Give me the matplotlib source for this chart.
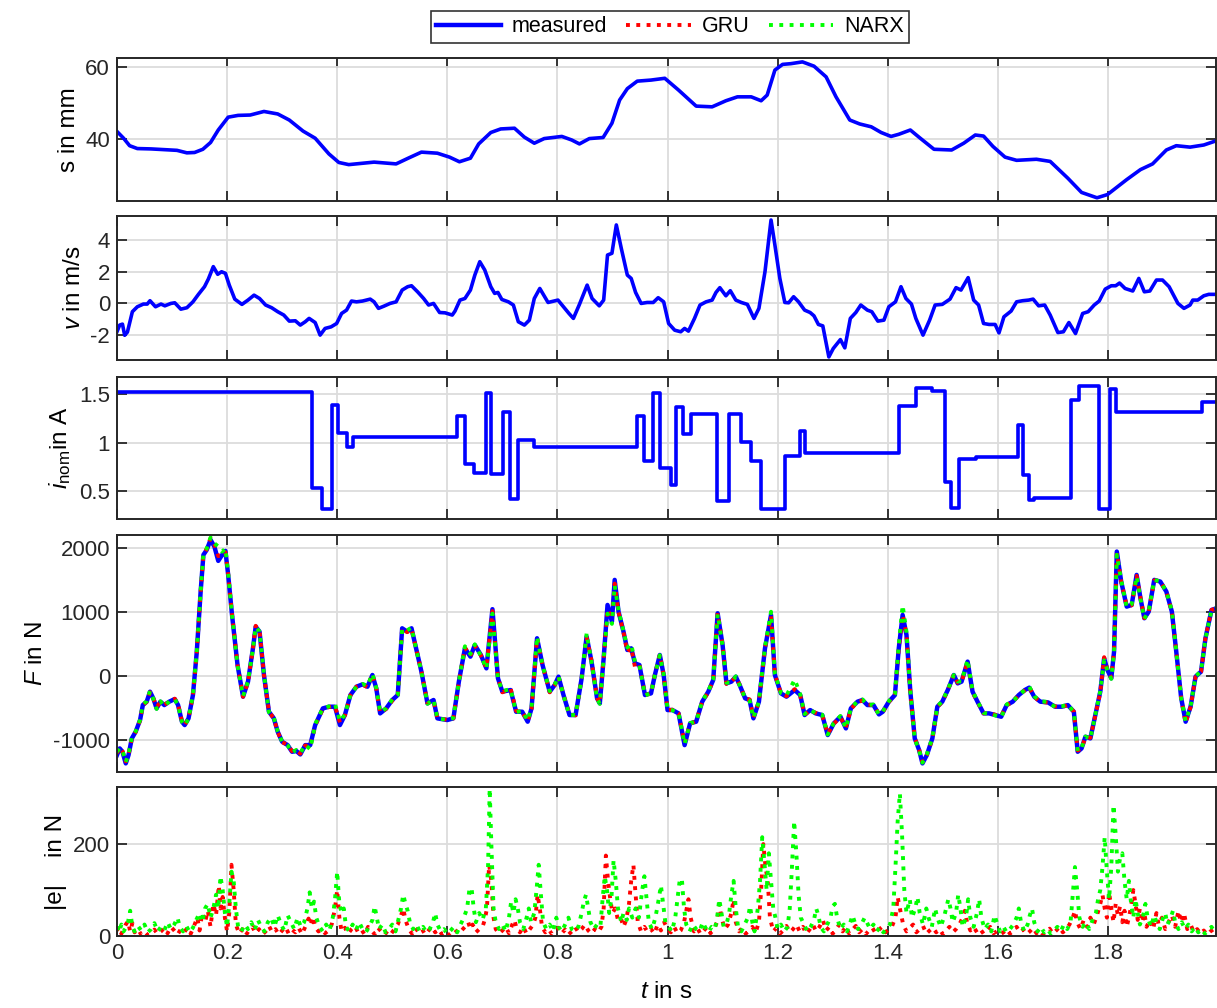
import matplotlib
matplotlib.use("Agg")
import matplotlib.pyplot as plt
from matplotlib.ticker import FuncFormatter

plt.rcParams['font.family'] = ['Liberation Sans', 'DejaVu Sans']
plt.rcParams['mathtext.fontset'] = 'custom'
plt.rcParams['mathtext.rm'] = 'Liberation Sans'
plt.rcParams['mathtext.it'] = 'Liberation Sans:italic'
plt.rcParams['axes.unicode_minus'] = False

# ---------------- data ----------------
# stroke s in mm
s_t = [0, 0.012, 0.023, 0.037, 0.062, 0.109, 0.127, 0.141, 0.156, 0.170,
       0.184, 0.202, 0.220, 0.242, 0.267, 0.292, 0.313, 0.338, 0.360, 0.385,
       0.403, 0.421, 0.467, 0.507, 0.529, 0.553, 0.582, 0.604, 0.622, 0.642,
       0.657, 0.679, 0.697, 0.722, 0.740, 0.758, 0.776, 0.808, 0.826, 0.840,
       0.858, 0.883, 0.899, 0.913, 0.927, 0.945, 0.970, 0.995, 1.020, 1.052,
       1.081, 1.106, 1.127, 1.152, 1.170, 1.181, 1.195, 1.209, 1.224, 1.245,
       1.266, 1.288, 1.306, 1.331, 1.349, 1.370, 1.388, 1.406, 1.420, 1.441,
       1.459, 1.484, 1.516, 1.538, 1.559, 1.574, 1.591, 1.613, 1.634, 1.670,
       1.695, 1.727, 1.752, 1.780, 1.799, 1.834, 1.859, 1.881, 1.906, 1.924,
       1.949, 1.974, 1.997]
s_val = [42.0, 40.1, 38.0, 37.2, 37.1, 36.7, 36.0, 36.1, 37.0, 38.9,
         42.4, 46.0, 46.5, 46.6, 47.6, 46.9, 45.2, 42.1, 40.1, 35.7,
         33.3, 32.7, 33.4, 32.9, 34.5, 36.2, 35.9, 34.8, 33.5, 34.5,
         38.5, 41.7, 42.7, 42.9, 40.4, 38.7, 40.0, 40.6, 39.6, 38.5,
         40.0, 40.3, 44.3, 50.8, 54.0, 56.1, 56.4, 56.9, 53.6, 49.1,
         48.9, 50.6, 51.7, 51.7, 50.6, 52.2, 59.2, 60.8, 61.0, 61.5,
         60.3, 57.3, 51.7, 45.2, 44.1, 43.3, 41.7, 40.6, 41.2, 42.4,
         40.1, 37.0, 36.8, 38.7, 41.0, 40.7, 37.8, 34.8, 33.9, 34.2,
         33.6, 28.9, 24.9, 23.4, 24.3, 28.5, 31.3, 32.9, 36.8, 38.0,
         37.6, 38.2, 39.4]

# velocity v in m/s: (t, v)
v_points = [
    (0.000, -1.78), (0.005, -1.36), (0.010, -1.30), (0.014, -2.00), (0.019, -1.80),
    (0.028, -0.52), (0.037, -0.21), (0.048, -0.04), (0.055, -0.04), (0.060, 0.17),
    (0.070, -0.21), (0.080, -0.04), (0.087, -0.15), (0.098, 0.00), (0.105, 0.04),
    (0.116, -0.36), (0.127, -0.27), (0.138, 0.10), (0.148, 0.57), (0.159, 1.05),
    (0.166, 1.53), (0.175, 2.31), (0.183, 1.83), (0.190, 1.99), (0.197, 1.89),
    (0.204, 1.15), (0.214, 0.27), (0.227, -0.06), (0.238, 0.21), (0.249, 0.52),
    (0.259, 0.31), (0.270, -0.10), (0.281, -0.27), (0.292, -0.52), (0.303, -0.73),
    (0.313, -1.11), (0.324, -1.09), (0.333, -1.36), (0.342, -1.15), (0.349, -0.94),
    (0.360, -1.20), (0.369, -1.99), (0.378, -1.57), (0.389, -1.47), (0.399, -1.26),
    (0.408, -0.63), (0.417, -0.42), (0.426, 0.15), (0.435, 0.10), (0.446, 0.15),
    (0.460, 0.27), (0.467, 0.10), (0.475, -0.31), (0.485, -0.17), (0.496, 0.00),
    (0.507, 0.10), (0.518, 0.84), (0.528, 1.05), (0.535, 1.11), (0.546, 0.73),
    (0.557, 0.31), (0.566, -0.10), (0.575, 0.00), (0.586, -0.57), (0.596, -0.59),
    (0.609, -0.73), (0.614, -0.48), (0.623, 0.21), (0.632, 0.31), (0.642, 0.84),
    (0.650, 1.78), (0.659, 2.62), (0.668, 2.10), (0.679, 1.05), (0.686, 0.63),
    (0.692, 0.69), (0.699, 0.25), (0.711, 0.10), (0.720, -0.10), (0.729, -1.15),
    (0.740, -1.36), (0.749, -1.05), (0.758, 0.31), (0.768, 0.94), (0.783, 0.06),
    (0.801, 0.21), (0.811, -0.21), (0.821, -0.63), (0.829, -0.94), (0.840, -0.06),
    (0.854, 1.15), (0.863, 0.31), (0.876, -0.15), (0.884, 0.21), (0.891, 3.04),
    (0.899, 3.15), (0.907, 4.93), (0.916, 3.46), (0.927, 1.78), (0.934, 1.57),
    (0.942, 0.69), (0.952, 0.00), (0.963, 0.06), (0.974, 0.06), (0.983, 0.36),
    (0.993, 0.10), (1.002, -1.26), (1.013, -1.68), (1.024, -1.78), (1.031, -1.57),
    (1.038, -1.74), (1.049, -0.94), (1.059, -0.10), (1.070, 0.10), (1.081, 0.21),
    (1.088, 0.69), (1.095, 0.99), (1.106, 0.48), (1.114, 0.80), (1.124, 0.21),
    (1.134, 0.06), (1.145, -0.06), (1.157, -0.94), (1.166, -0.31), (1.177, 1.99),
    (1.188, 5.24), (1.195, 3.67), (1.204, 1.57), (1.213, 0.06), (1.220, 0.04),
    (1.229, 0.42), (1.238, 0.10), (1.249, -0.42), (1.259, -0.57), (1.266, -0.78),
    (1.274, -1.32), (1.282, -1.41), (1.293, -3.36), (1.301, -2.83), (1.314, -2.27),
    (1.322, -2.79), (1.332, -0.94), (1.342, -0.57), (1.351, -0.10), (1.363, -0.42),
    (1.371, -0.52), (1.382, -1.11), (1.393, -1.05), (1.402, -0.21), (1.414, 0.10),
    (1.424, 1.05), (1.433, 0.31), (1.443, -0.04), (1.451, -0.94), (1.464, -1.99),
    (1.476, -1.05), (1.486, -0.10), (1.499, -0.06), (1.513, 0.27), (1.524, 0.99),
    (1.533, 0.84), (1.546, 1.62), (1.556, 0.21), (1.565, -0.10), (1.574, -1.26),
    (1.584, -1.32), (1.595, -1.32), (1.602, -1.85), (1.611, -0.84), (1.624, -0.48),
    (1.634, 0.10), (1.645, 0.17), (1.656, 0.21), (1.664, 0.27), (1.674, -0.15),
    (1.685, -0.10), (1.695, -0.73), (1.709, -1.83), (1.719, -1.78), (1.729, -1.20),
    (1.741, -1.89), (1.754, -0.63), (1.764, -0.52), (1.775, -0.10), (1.784, 0.15),
    (1.795, 0.90), (1.806, 1.11), (1.814, 1.11), (1.821, 1.28), (1.831, 0.94),
    (1.845, 0.78), (1.856, 1.57), (1.866, 0.73), (1.876, 0.78), (1.888, 1.47),
    (1.899, 1.47), (1.911, 1.05), (1.927, 0.00), (1.938, -0.31), (1.949, -0.10),
    (1.954, 0.21), (1.963, 0.21), (1.974, 0.48), (1.983, 0.57), (1.997, 0.57),
]

# nominal current: switching instants and held levels
i_t = [0, 0.354, 0.373, 0.391, 0.401, 0.418, 0.428, 0.618, 0.632, 0.649,
       0.670, 0.680, 0.702, 0.713, 0.729, 0.758, 0.945, 0.957, 0.974, 0.986,
       1.006, 1.015, 1.029, 1.043, 1.090, 1.111, 1.134, 1.152, 1.170, 1.214,
       1.240, 1.249, 1.420, 1.452, 1.481, 1.504, 1.514, 1.529, 1.561, 1.636,
       1.645, 1.656, 1.666, 1.733, 1.747, 1.783, 1.804, 1.814, 1.971, 1.997]
i_val = [1.53, 0.53, 0.32, 1.39, 1.10, 0.96, 1.06, 1.28, 0.78, 0.69,
         1.51, 0.68, 1.32, 0.42, 1.03, 0.96, 1.28, 0.81, 1.51, 0.74,
         0.57, 1.37, 1.09, 1.30, 0.40, 1.30, 1.01, 0.81, 0.32, 0.87,
         1.12, 0.90, 1.38, 1.57, 1.54, 0.60, 0.33, 0.83, 0.85, 1.18,
         0.67, 0.41, 0.43, 1.44, 1.59, 0.32, 1.56, 1.32, 1.42, 1.42]

# force: (t, measured, GRU, NARX) in N
F_rows = [
    (0.000, -1231, -1200, -1180), (0.005, -1127, -1110, -1120), (0.010, -1179, -1170, -1160),
    (0.016, -1361, -1330, -1340), (0.021, -1231, -1230, -1220), (0.027, -970, -980, -960),
    (0.034, -866, -870, -860), (0.042, -683, -690, -680), (0.047, -449, -450, -440),
    (0.054, -396, -400, -390), (0.060, -240, -250, -230), (0.066, -344, -340, -350),
    (0.072, -501, -480, -510), (0.079, -396, -400, -390), (0.086, -449, -440, -470),
    (0.095, -396, -400, -390), (0.105, -355, -350, -360), (0.111, -449, -440, -450),
    (0.118, -709, -700, -710), (0.123, -762, -760, -770), (0.130, -657, -650, -660),
    (0.138, -292, -300, -290), (0.145, 386, 380, 390), (0.152, 1325, 1320, 1330),
    (0.157, 1899, 1900, 1920), (0.163, 1977, 1990, 2000), (0.170, 2134, 2160, 2170),
    (0.177, 2029, 2060, 2080), (0.184, 1805, 1880, 2030), (0.191, 1899, 1900, 1950),
    (0.197, 1961, 1940, 2000), (0.202, 1586, 1600, 1610), (0.209, 960, 970, 960),
    (0.219, 177, 180, 170), (0.229, -318, -320, -310), (0.238, -83, -90, -80),
    (0.247, 438, 440, 430), (0.252, 777, 790, 770), (0.259, 699, 710, 700),
    (0.267, 21, 20, 30), (0.276, -553, -550, -560), (0.285, -657, -660, -650),
    (0.292, -866, -870, -860), (0.300, -1022, -1030, -1020), (0.310, -1075, -1070, -1080),
    (0.318, -1179, -1170, -1190), (0.326, -1168, -1160, -1150), (0.333, -1221, -1210, -1200),
    (0.342, -1075, -1080, -1070), (0.351, -1075, -1100, -1140), (0.360, -762, -770, -750),
    (0.367, -631, -640, -620), (0.374, -501, -510, -500), (0.385, -475, -480, -470),
    (0.396, -475, -470, -430), (0.405, -762, -720, -700), (0.414, -605, -610, -600),
    (0.424, -292, -300, -290), (0.435, -162, -160, -160), (0.446, -125, -130, -120),
    (0.455, -162, -170, -150), (0.464, 21, 30, 40), (0.471, -188, -190, -180),
    (0.478, -579, -570, -560), (0.489, -501, -510, -500), (0.500, -370, -380, -360),
    (0.510, -292, -300, -290), (0.518, 751, 760, 740), (0.527, 699, 690, 720),
    (0.535, 751, 740, 760), (0.546, 334, 340, 330), (0.553, 73, 80, 70),
    (0.564, -423, -420, -430), (0.575, -370, -380, -360), (0.582, -657, -650, -660),
    (0.600, -683, -680, -680), (0.611, -657, -660, -650), (0.621, -83, -90, -80),
    (0.632, 438, 450, 470), (0.642, 308, 320, 350), (0.650, 490, 480, 500),
    (0.661, 334, 330, 320), (0.671, 125, 130, 120), (0.682, 1050, 1020, 980),
    (0.692, -31, -20, -40), (0.700, -240, -250, -230), (0.715, -214, -190, -200),
    (0.725, -553, -540, -560), (0.736, -553, -560, -540), (0.746, -709, -700, -690),
    (0.753, -501, -510, -490), (0.763, 595, 590, 620), (0.773, 177, 180, 170),
    (0.786, -240, -250, -230), (0.795, -136, -140, -130), (0.802, -5, -10, 0),
    (0.811, -292, -290, -300), (0.822, -605, -600, -610), (0.833, -605, -610, -600),
    (0.844, -31, -30, -40), (0.853, 621, 610, 670), (0.862, 230, 240, 220),
    (0.872, -344, -340, -350), (0.877, -423, -420, -430), (0.884, 282, 290, 280),
    (0.891, 1116, 1050, 980), (0.899, 855, 900, 820), (0.904, 1508, 1450, 1420),
    (0.911, 1012, 1000, 1030), (0.920, 699, 690, 700), (0.927, 412, 380, 450),
    (0.934, 438, 450, 506), (0.941, 203, 140, 220), (0.949, 177, 180, 170),
    (0.959, -292, -290, -300), (0.970, -266, -270, -260), (0.977, 21, 30, 20),
    (0.986, 334, 340, 330), (0.993, 21, 20, 30), (1.000, -527, -530, -520),
    (1.009, -527, -520, -530), (1.020, -579, -580, -570), (1.031, -1075, -1040, -1060),
    (1.041, -735, -740, -730), (1.052, -709, -700, -710), (1.063, -396, -400, -390),
    (1.074, -240, -250, -230), (1.083, -57, -60, -50), (1.091, 986, 990, 970),
    (1.100, 490, 500, 480), (1.107, -110, -120, -100), (1.116, -83, -80, -100),
    (1.124, -5, -10, 0), (1.131, -136, -130, -140), (1.141, -344, -350, -340),
    (1.149, -370, -360, -380), (1.156, -657, -640, -650), (1.166, -396, -400, -390),
    (1.177, 438, 440, 460), (1.188, 960, 940, 1010), (1.195, 21, 30, 40),
    (1.206, -266, -270, -260), (1.216, -318, -310, -300), (1.231, -214, -200, -50),
    (1.241, -292, -300, -280), (1.249, -605, -600, -590), (1.259, -527, -530, -520),
    (1.269, -579, -570, -580), (1.281, -605, -610, -600), (1.291, -918, -900, -910),
    (1.302, -735, -740, -730), (1.314, -631, -640, -620), (1.324, -814, -800, -810),
    (1.333, -501, -510, -500), (1.345, -396, -400, -390), (1.354, -370, -380, -360),
    (1.363, -449, -440, -450), (1.374, -449, -450, -440), (1.384, -595, -590, -600),
    (1.391, -553, -560, -550), (1.402, -396, -400, -390), (1.413, -292, -300, -280),
    (1.420, 438, 440, 500), (1.427, 960, 960, 1110), (1.434, 647, 650, 700),
    (1.441, -240, -250, -230), (1.449, -970, -960, -980), (1.457, -1153, -1150, -1160),
    (1.463, -1361, -1340, -1350), (1.471, -1231, -1230, -1220), (1.481, -970, -980, -960),
    (1.490, -475, -480, -470), (1.499, -396, -400, -390), (1.509, -214, -220, -210),
    (1.520, 21, 30, 20), (1.527, -110, -100, -80), (1.534, -83, -90, -80),
    (1.545, 230, 230, 260), (1.554, -240, -250, -230), (1.563, -396, -400, -390),
    (1.574, -579, -580, -570), (1.584, -579, -570, -590), (1.595, -605, -600, -610),
    (1.606, -631, -620, -640), (1.616, -449, -450, -440), (1.627, -396, -400, -390),
    (1.638, -292, -290, -300), (1.649, -214, -220, -210), (1.657, -177, -170, -160),
    (1.666, -318, -320, -310), (1.677, -396, -400, -390), (1.691, -407, -410, -400),
    (1.704, -475, -470, -480), (1.716, -475, -480, -470), (1.727, -449, -450, -440),
    (1.738, -553, -550, -560), (1.745, -1179, -1160, -1170), (1.752, -1127, -1130, -1120),
    (1.759, -944, -950, -940), (1.768, -970, -960, -980), (1.777, -605, -610, -600),
    (1.786, -240, -250, -230), (1.793, 282, 300, 250), (1.799, 99, 100, 90),
    (1.806, -31, -20, -40), (1.811, 386, 400, 380), (1.816, 1951, 1930, 1900),
    (1.824, 1481, 1480, 1500), (1.834, 1090, 1100, 1080), (1.843, 1116, 1110, 1130),
    (1.852, 1586, 1570, 1560), (1.859, 1221, 1230, 1210), (1.866, 908, 910, 900),
    (1.874, 1012, 1010, 1020), (1.884, 1508, 1500, 1510), (1.895, 1481, 1490, 1480),
    (1.906, 1325, 1320, 1330), (1.916, 1012, 1010, 1020), (1.924, 386, 380, 390),
    (1.933, -344, -350, -340), (1.941, -709, -730, -700), (1.950, -475, -480, -470),
    (1.959, -5, -10, 0), (1.969, 73, 70, 80), (1.977, 595, 600, 590),
    (1.988, 1038, 1040, 1030), (1.997, 1064, 1060, 1070),
]

# absolute prediction error |e| in N: (t, |e|)
e_gru = [
    (0.000, 12), (0.004, 20), (0.008, 5), (0.012, 15), (0.016, 25), (0.020, 32), (0.024, 10),
    (0.028, 28), (0.032, 8), (0.038, 15), (0.044, 3), (0.050, 10), (0.056, 2), (0.062, 8),
    (0.068, 14), (0.074, 4), (0.080, 10), (0.086, 18), (0.092, 6), (0.098, 20), (0.104, 12),
    (0.110, 3), (0.116, 15), (0.122, 8), (0.128, 18), (0.134, 5), (0.140, 22), (0.146, 40),
    (0.150, 12), (0.155, 50), (0.160, 30), (0.165, 55), (0.170, 20), (0.175, 70), (0.180, 45),
    (0.185, 110), (0.188, 60), (0.192, 85), (0.196, 40), (0.200, 10), (0.204, 50), (0.208, 155),
    (0.212, 100), (0.216, 25), (0.222, 5), (0.228, 15), (0.234, 2), (0.240, 12), (0.246, 20),
    (0.252, 6), (0.258, 15), (0.264, 3), (0.270, 10), (0.276, 22), (0.282, 8), (0.288, 15),
    (0.294, 3), (0.300, 12), (0.306, 20), (0.312, 5), (0.318, 14), (0.324, 8), (0.330, 18),
    (0.336, 4), (0.342, 20), (0.348, 38), (0.352, 25), (0.356, 42), (0.360, 20), (0.366, 10),
    (0.372, 15), (0.378, 6), (0.384, 12), (0.390, 25), (0.396, 60), (0.400, 100), (0.404, 40),
    (0.408, 10), (0.414, 18), (0.420, 5), (0.426, 15), (0.432, 22), (0.438, 8), (0.444, 14),
    (0.450, 3), (0.456, 20), (0.462, 12), (0.468, 4), (0.474, 18), (0.480, 10), (0.486, 2),
    (0.492, 12), (0.498, 5), (0.504, 15), (0.510, 25), (0.516, 45), (0.520, 60), (0.524, 35),
    (0.530, 15), (0.536, 5), (0.542, 18), (0.548, 8), (0.554, 15), (0.560, 3), (0.566, 12),
    (0.572, 20), (0.578, 8), (0.584, 15), (0.590, 4), (0.596, 10), (0.602, 2), (0.608, 8),
    (0.614, 14), (0.620, 5), (0.626, 12), (0.632, 20), (0.638, 30), (0.642, 15), (0.646, 25),
    (0.652, 8), (0.658, 15), (0.664, 20), (0.668, 35), (0.672, 60), (0.676, 155), (0.680, 120),
    (0.684, 40), (0.688, 15), (0.694, 5), (0.700, 12), (0.706, 20), (0.712, 6), (0.718, 25),
    (0.722, 35), (0.726, 15), (0.732, 8), (0.738, 20), (0.744, 5), (0.750, 15), (0.756, 25),
    (0.760, 40), (0.764, 90), (0.768, 60), (0.772, 20), (0.778, 8), (0.784, 15), (0.790, 4),
    (0.796, 12), (0.802, 18), (0.808, 6), (0.814, 14), (0.820, 3), (0.826, 10), (0.832, 20),
    (0.838, 8), (0.844, 15), (0.850, 25), (0.856, 12), (0.862, 5), (0.868, 15), (0.874, 8),
    (0.880, 20), (0.884, 60), (0.888, 175), (0.892, 120), (0.896, 80), (0.900, 50), (0.905, 60),
    (0.910, 35), (0.915, 40), (0.920, 20), (0.925, 35), (0.930, 70), (0.934, 120), (0.938, 155),
    (0.942, 90), (0.946, 30), (0.952, 10), (0.958, 20), (0.964, 8), (0.970, 15), (0.976, 5),
    (0.982, 25), (0.988, 12), (0.994, 30), (1.000, 15), (1.006, 8), (1.012, 20), (1.018, 6),
    (1.024, 12), (1.030, 30), (1.034, 55), (1.038, 80), (1.042, 40), (1.048, 10), (1.054, 18),
    (1.060, 4), (1.066, 12), (1.072, 20), (1.078, 6), (1.084, 15), (1.090, 30), (1.094, 70),
    (1.098, 40), (1.104, 15), (1.110, 25), (1.116, 50), (1.120, 80), (1.124, 30), (1.130, 10),
    (1.136, 18), (1.142, 5), (1.148, 12), (1.154, 20), (1.160, 8), (1.166, 30), (1.170, 100),
    (1.174, 200), (1.178, 150), (1.182, 120), (1.186, 40), (1.192, 10), (1.198, 18), (1.204, 5),
    (1.210, 12), (1.216, 22), (1.222, 8), (1.228, 15), (1.234, 25), (1.240, 10), (1.246, 20),
    (1.252, 5), (1.258, 14), (1.264, 25), (1.270, 10), (1.276, 20), (1.282, 35), (1.288, 12),
    (1.294, 20), (1.300, 5), (1.306, 15), (1.312, 25), (1.318, 10), (1.324, 20), (1.330, 5),
    (1.336, 14), (1.342, 22), (1.348, 8), (1.354, 15), (1.360, 4), (1.366, 12), (1.372, 18),
    (1.378, 6), (1.384, 14), (1.390, 20), (1.396, 8), (1.402, 15), (1.408, 22), (1.414, 40),
    (1.418, 85), (1.422, 60), (1.428, 25), (1.434, 10), (1.440, 18), (1.446, 25), (1.452, 8),
    (1.458, 15), (1.464, 22), (1.470, 5), (1.476, 12), (1.482, 18), (1.488, 8), (1.494, 15),
    (1.500, 4), (1.506, 12), (1.512, 20), (1.518, 8), (1.524, 15), (1.530, 25), (1.536, 40),
    (1.540, 55), (1.544, 30), (1.550, 12), (1.556, 20), (1.562, 8), (1.568, 15), (1.574, 5),
    (1.580, 12), (1.586, 20), (1.592, 6), (1.598, 10), (1.604, 3), (1.610, 8), (1.616, 15),
    (1.622, 5), (1.628, 12), (1.634, 20), (1.640, 8), (1.646, 14), (1.652, 4), (1.658, 10),
    (1.664, 18), (1.670, 6), (1.676, 12), (1.682, 3), (1.688, 10), (1.694, 16), (1.700, 5),
    (1.706, 12), (1.712, 20), (1.718, 8), (1.724, 15), (1.730, 25), (1.736, 40), (1.740, 55),
    (1.744, 30), (1.750, 15), (1.756, 35), (1.762, 20), (1.768, 40), (1.774, 25), (1.780, 45),
    (1.786, 70), (1.790, 90), (1.794, 60), (1.798, 40), (1.802, 95), (1.806, 60), (1.810, 30),
    (1.814, 70), (1.818, 45), (1.822, 65), (1.826, 30), (1.830, 55), (1.834, 20), (1.838, 40),
    (1.842, 65), (1.846, 100), (1.850, 70), (1.854, 35), (1.858, 60), (1.862, 30), (1.866, 50),
    (1.870, 20), (1.876, 35), (1.882, 15), (1.888, 50), (1.892, 25), (1.898, 40), (1.904, 15),
    (1.910, 30), (1.916, 45), (1.922, 20), (1.928, 55), (1.932, 30), (1.938, 50), (1.944, 15),
    (1.950, 25), (1.956, 8), (1.962, 15), (1.968, 5), (1.974, 12), (1.980, 3), (1.986, 10),
    (1.992, 15), (1.997, 5),
]
e_narx = [
    (0.000, 20), (0.004, 8), (0.008, 25), (0.012, 10), (0.016, 18), (0.020, 30), (0.024, 55),
    (0.028, 20), (0.032, 10), (0.038, 22), (0.044, 12), (0.050, 25), (0.056, 8), (0.062, 15),
    (0.068, 28), (0.074, 10), (0.080, 20), (0.086, 12), (0.092, 30), (0.098, 15), (0.104, 25),
    (0.110, 40), (0.114, 20), (0.120, 10), (0.126, 22), (0.132, 8), (0.138, 18), (0.144, 35),
    (0.150, 50), (0.155, 30), (0.160, 60), (0.165, 70), (0.170, 40), (0.175, 60), (0.180, 90),
    (0.184, 60), (0.188, 130), (0.192, 100), (0.196, 50), (0.200, 20), (0.204, 70), (0.208, 140),
    (0.212, 120), (0.216, 60), (0.220, 20), (0.226, 10), (0.232, 25), (0.238, 15), (0.244, 30),
    (0.250, 12), (0.256, 35), (0.262, 20), (0.268, 10), (0.274, 30), (0.280, 40), (0.286, 20),
    (0.292, 45), (0.298, 25), (0.304, 12), (0.310, 45), (0.316, 30), (0.322, 15), (0.328, 40),
    (0.334, 20), (0.340, 30), (0.346, 60), (0.350, 95), (0.354, 60), (0.358, 75), (0.362, 40),
    (0.368, 20), (0.374, 10), (0.380, 25), (0.386, 12), (0.392, 40), (0.396, 80), (0.400, 140),
    (0.404, 70), (0.408, 50), (0.412, 60), (0.416, 20), (0.422, 10), (0.428, 25), (0.434, 12),
    (0.440, 30), (0.446, 15), (0.452, 8), (0.458, 20), (0.464, 35), (0.468, 65), (0.472, 40),
    (0.476, 15), (0.482, 25), (0.488, 8), (0.494, 15), (0.500, 25), (0.506, 10), (0.512, 40),
    (0.516, 60), (0.520, 90), (0.524, 70), (0.528, 55), (0.532, 30), (0.538, 15), (0.544, 25),
    (0.550, 10), (0.556, 20), (0.562, 8), (0.568, 15), (0.574, 30), (0.578, 50), (0.582, 25),
    (0.588, 10), (0.594, 15), (0.600, 5), (0.606, 12), (0.612, 20), (0.618, 8), (0.624, 25),
    (0.630, 40), (0.636, 60), (0.640, 100), (0.644, 105), (0.648, 60), (0.652, 30), (0.658, 50),
    (0.664, 35), (0.670, 60), (0.674, 150), (0.677, 320), (0.680, 200), (0.684, 60), (0.688, 30),
    (0.694, 15), (0.700, 25), (0.706, 10), (0.712, 40), (0.716, 75), (0.720, 50), (0.724, 80),
    (0.728, 60), (0.732, 30), (0.738, 15), (0.744, 40), (0.748, 60), (0.752, 30), (0.758, 50),
    (0.762, 100), (0.766, 155), (0.770, 90), (0.774, 30), (0.780, 15), (0.786, 25), (0.792, 10),
    (0.798, 40), (0.802, 20), (0.808, 10), (0.814, 25), (0.820, 40), (0.826, 15), (0.832, 10),
    (0.838, 20), (0.844, 50), (0.848, 75), (0.852, 90), (0.856, 60), (0.860, 30), (0.866, 15),
    (0.872, 25), (0.878, 20), (0.882, 80), (0.886, 130), (0.890, 100), (0.894, 50), (0.898, 80),
    (0.902, 165), (0.906, 120), (0.910, 60), (0.916, 30), (0.920, 50), (0.926, 35), (0.930, 60),
    (0.936, 40), (0.942, 60), (0.948, 40), (0.954, 100), (0.958, 130), (0.962, 80), (0.966, 30),
    (0.972, 15), (0.978, 40), (0.984, 80), (0.988, 110), (0.992, 70), (0.996, 30), (1.002, 20),
    (1.008, 10), (1.014, 40), (1.018, 80), (1.022, 120), (1.026, 125), (1.030, 60), (1.034, 25),
    (1.040, 10), (1.046, 25), (1.052, 15), (1.058, 10), (1.064, 30), (1.068, 20), (1.074, 8),
    (1.080, 20), (1.086, 15), (1.090, 40), (1.094, 80), (1.098, 50), (1.102, 20), (1.108, 30),
    (1.112, 50), (1.116, 90), (1.120, 120), (1.124, 60), (1.128, 20), (1.134, 10), (1.140, 25),
    (1.146, 40), (1.150, 65), (1.154, 30), (1.158, 10), (1.164, 60), (1.168, 120), (1.172, 215),
    (1.176, 160), (1.180, 100), (1.184, 180), (1.188, 120), (1.192, 60), (1.196, 40), (1.200, 15),
    (1.206, 25), (1.212, 10), (1.218, 20), (1.222, 60), (1.226, 150), (1.230, 250), (1.234, 180),
    (1.238, 90), (1.242, 40), (1.248, 25), (1.254, 10), (1.260, 20), (1.266, 35), (1.270, 60),
    (1.274, 45), (1.278, 20), (1.284, 10), (1.290, 25), (1.296, 40), (1.300, 65), (1.304, 70),
    (1.308, 40), (1.314, 15), (1.320, 25), (1.326, 10), (1.332, 30), (1.336, 45), (1.340, 30),
    (1.346, 15), (1.352, 25), (1.358, 40), (1.362, 30), (1.368, 15), (1.374, 25), (1.380, 10),
    (1.386, 20), (1.392, 8), (1.398, 15), (1.404, 25), (1.410, 60), (1.414, 150), (1.418, 250),
    (1.422, 310), (1.426, 220), (1.430, 100), (1.434, 50), (1.440, 80), (1.444, 40), (1.450, 60),
    (1.454, 85), (1.458, 50), (1.464, 25), (1.470, 60), (1.474, 40), (1.480, 20), (1.486, 60),
    (1.490, 40), (1.496, 20), (1.502, 40), (1.506, 60), (1.510, 80), (1.514, 60), (1.518, 30),
    (1.524, 50), (1.528, 90), (1.532, 60), (1.536, 20), (1.542, 40), (1.546, 80), (1.550, 40),
    (1.556, 20), (1.562, 50), (1.566, 80), (1.570, 40), (1.576, 15), (1.582, 25), (1.588, 10),
    (1.594, 45), (1.598, 30), (1.604, 10), (1.610, 20), (1.616, 8), (1.622, 15), (1.628, 25),
    (1.634, 40), (1.638, 60), (1.642, 30), (1.648, 10), (1.654, 25), (1.658, 45), (1.662, 60),
    (1.666, 30), (1.672, 10), (1.678, 20), (1.684, 8), (1.690, 15), (1.696, 5), (1.702, 12),
    (1.708, 20), (1.714, 10), (1.720, 25), (1.726, 15), (1.732, 30), (1.736, 90), (1.740, 150),
    (1.744, 100), (1.748, 40), (1.754, 20), (1.760, 30), (1.766, 15), (1.772, 35), (1.778, 50),
    (1.782, 80), (1.786, 100), (1.790, 150), (1.794, 215), (1.798, 140), (1.802, 80), (1.806, 150),
    (1.810, 285), (1.814, 220), (1.818, 140), (1.822, 170), (1.826, 180), (1.830, 120), (1.834, 80),
    (1.838, 120), (1.842, 70), (1.846, 40), (1.850, 80), (1.854, 50), (1.858, 25), (1.864, 45),
    (1.868, 70), (1.872, 40), (1.878, 20), (1.884, 45), (1.888, 30), (1.894, 15), (1.900, 40),
    (1.904, 50), (1.908, 25), (1.914, 40), (1.918, 55), (1.922, 30), (1.928, 15), (1.934, 30),
    (1.940, 15), (1.946, 25), (1.952, 10), (1.958, 20), (1.964, 8), (1.970, 15), (1.976, 5),
    (1.982, 12), (1.988, 20), (1.994, 8),
]

x_ticks = [0, 0.2, 0.4, 0.6, 0.8, 1.0, 1.2, 1.4, 1.6, 1.8]

# ---------------- figure ----------------
BLUE, RED, GREEN = '#0000ff', '#ff0000', '#00ff00'
SPINE = '#262626'
TICK_FS = 16
LABEL_FS = 17.5

fig = plt.figure(figsize=(12.17, 10.08), dpi=100)
left, width = 0.0961, 0.9030
rects = [
    (0.8006, 0.1419),
    (0.6429, 0.1428),
    (0.4851, 0.1409),
    (0.2341, 0.2351),
    (0.0714, 0.1478),
]
axes = [fig.add_axes([left, b, width, h]) for b, h in rects]

for ax in axes:
    ax.set_xlim(0, 1.996)
    ax.set_xticks(x_ticks)
    ax.grid(True, color='#dcdcdc', linewidth=1.3)
    ax.set_axisbelow(True)
    ax.tick_params(direction='in', length=7, width=1.3, colors=SPINE,
                   labelsize=TICK_FS, top=True, right=True, pad=5)
    for sp in ax.spines.values():
        sp.set_color(SPINE)
        sp.set_linewidth(1.4)
for ax in axes[:-1]:
    ax.tick_params(labelbottom=False)

LW = 2.6
DOT_LW = 2.8

# stroke
ax = axes[0]
ax.plot(s_t, s_val, color=BLUE, lw=LW)
ax.set_ylim(22.5, 62.6)
ax.set_yticks([40, 60])
ax.set_ylabel('s in mm', fontsize=LABEL_FS, labelpad=4)

# velocity
ax = axes[1]
v_t = [p[0] for p in v_points]
v_val = [p[1] for p in v_points]
ax.plot(v_t, v_val, color=BLUE, lw=LW)
ax.set_ylim(-3.55, 5.49)
ax.set_yticks([-2, 0, 2, 4])
ax.set_ylabel(r'$v$ in m/s', fontsize=LABEL_FS, labelpad=4)

# nominal current
ax = axes[2]
ax.step(i_t, i_val, where='post', color=BLUE, lw=LW)
ax.set_ylim(0.215, 1.68)
ax.set_yticks([0.5, 1, 1.5])
ax.yaxis.set_major_formatter(FuncFormatter(lambda y, _: f'{y:g}'))
ax.set_ylabel(r'$i_{\mathrm{nom}}$in A', fontsize=LABEL_FS, labelpad=4)

# force
ax = axes[3]
F_t = [r[0] for r in F_rows]
F_meas = [r[1] for r in F_rows]
F_gru = [r[2] for r in F_rows]
F_narx = [r[3] for r in F_rows]
h_meas, = ax.plot(F_t, F_meas, color=BLUE, lw=3.2, label='measured')
h_gru, = ax.plot(F_t, F_gru, color=RED, lw=DOT_LW, ls=':', label='GRU')
h_narx, = ax.plot(F_t, F_narx, color=GREEN, lw=DOT_LW, ls=':', label='NARX')
ax.set_ylim(-1496, 2209)
ax.set_yticks([-1000, 0, 1000, 2000])
ax.set_ylabel(r'$F$ in N', fontsize=LABEL_FS, labelpad=4)

# absolute error
ax = axes[4]
ax.plot([p[0] for p in e_gru], [p[1] for p in e_gru], color=RED, lw=DOT_LW, ls=':')
ax.plot([p[0] for p in e_narx], [p[1] for p in e_narx], color=GREEN, lw=DOT_LW, ls=':')
ax.set_ylim(0, 324)
ax.set_yticks([0, 200])
ax.set_ylabel('|e|    in N', fontsize=LABEL_FS, labelpad=4)
ax.xaxis.set_major_formatter(FuncFormatter(lambda x, _: f'{x:g}'))
ax.set_xlabel(r'$t$ in s', fontsize=LABEL_FS, labelpad=12)

leg = fig.legend([h_meas, h_gru, h_narx], ['measured', 'GRU', 'NARX'],
                 loc='upper center', bbox_to_anchor=(0.5505, 0.989), ncol=3,
                 fontsize=15.5, frameon=True, fancybox=False, edgecolor='black',
                 handlelength=3.0, columnspacing=0.9, handletextpad=0.5,
                 borderpad=0.25, borderaxespad=0)
leg.get_frame().set_linewidth(1.2)

fig.savefig('out.png', dpi=100)
